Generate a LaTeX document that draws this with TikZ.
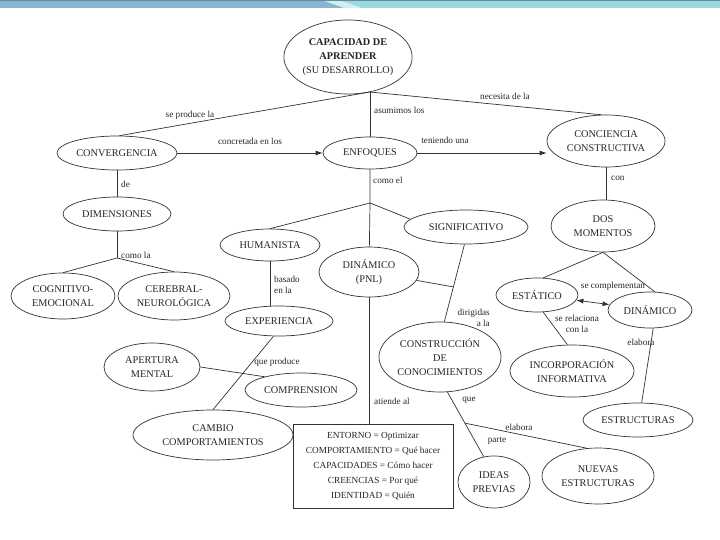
\documentclass[tikz,border=0pt]{standalone}
\usepackage{fontspec}
\setmainfont{Liberation Serif}
\usetikzlibrary{shapes.geometric,arrows.meta,calc}
\definecolor{ink}{HTML}{262626}
\definecolor{linec}{HTML}{333333}
\definecolor{barblue}{HTML}{88B6D0}
\definecolor{barcyan}{HTML}{9BD9DD}
\definecolor{bardark}{HTML}{5C8FA6}
\tikzset{
  ell/.style={ellipse, draw=linec, line width=0.7pt, inner sep=0pt, align=center, text=ink,
    font=\fontsize{10.3}{13.8}\selectfont},
  lbl/.style={inner sep=1pt, text=ink, font=\fontsize{9.2}{11.5}\selectfont, align=center},
  conn/.style={draw=linec, line width=0.7pt},
  arr/.style={conn, -{Latex[length=7pt,width=5pt]}},
  darr/.style={conn, {Latex[length=7pt,width=5pt]}-{Latex[length=7pt,width=5pt]}},
  infobox/.style={draw=linec, line width=0.8pt, rectangle, align=center, text=ink, inner sep=3pt,
    font=\fontsize{9.3}{15}\selectfont}
}
\begin{document}
\begin{tikzpicture}[x=1pt,y=-1pt]
\useasboundingbox (0,0) rectangle (720,540);
\fill[white] (0,0) rectangle (720,540);
% top bar
\fill[barblue] (0,0) rectangle (345,8);
\fill[barcyan] (345,0) rectangle (720,8);
\fill[white!55!barcyan] (322,0) -- (340,0) -- (362,8) -- (344,8) -- cycle;
\fill[bardark] (0,0) rectangle (720,1.5);

% nodes
\node[ell, minimum width=118, minimum height=74] (cap) at (348,57)
  {\textbf{CAPACIDAD DE}\\\textbf{APRENDER}\\(SU DESARROLLO)};
\node[ell, minimum width=120, minimum height=34] (conv) at (117,153) {CONVERGENCIA};
\node[ell, minimum width=94, minimum height=32] (enf) at (370,153) {ENFOQUES};
\node[ell, minimum width=118, minimum height=52] (conc) at (606,141) {CONCIENCIA\\CONSTRUCTIVA};
\node[ell, minimum width=108, minimum height=34] (dim) at (117,214) {DIMENSIONES};
\node[ell, minimum width=104, minimum height=46] (cog) at (63,296) {COGNITIVO-\\EMOCIONAL};
\node[ell, minimum width=112, minimum height=48] (cer) at (174,296) {CEREBRAL-\\NEUROLÓGICA};
\node[ell, minimum width=100, minimum height=32] (hum) at (270,245) {HUMANISTA};
\node[ell, minimum width=100, minimum height=50] (pnl) at (369,272) {DINÁMICO\\(PNL)};
\node[ell, minimum width=124, minimum height=34] (sig) at (466,227) {SIGNIFICATIVO};
\node[ell, minimum width=104, minimum height=52] (dos) at (603,226) {DOS\\MOMENTOS};
\node[ell, minimum width=82, minimum height=34] (est) at (537,295) {ESTÁTICO};
\node[ell, minimum width=84, minimum height=36] (din) at (650,310) {DINÁMICO};
\node[ell, minimum width=108, minimum height=30] (exp) at (279,321) {EXPERIENCIA};
\node[ell, minimum width=122, minimum height=70] (cons) at (440,357) {CONSTRUCCIÓN\\DE\\CONOCIMIENTOS};
\node[ell, minimum width=124, minimum height=52] (inc) at (572,371) {INCORPORACIÓN\\INFORMATIVA};
\node[ell, minimum width=96, minimum height=48] (ape) at (152,367) {APERTURA\\MENTAL};
\node[ell, minimum width=112, minimum height=34] (comp) at (301,390) {COMPRENSION};
\node[ell, minimum width=110, minimum height=34] (estr) at (638,420) {ESTRUCTURAS};
\node[ell, minimum width=160, minimum height=50] (cam) at (213,435) {CAMBIO\\COMPORTAMIENTOS};
\node[ell, minimum width=72, minimum height=52] (ideas) at (494,482) {IDEAS\\PREVIAS};
\node[ell, minimum width=112, minimum height=56] (nue) at (598,476) {NUEVAS\\ESTRUCTURAS};
\node[infobox, minimum width=160, minimum height=84] (box) at (373,466)
  {ENTORNO = Optimizar\\COMPORTAMIENTO = Qué hacer\\CAPACIDADES = Cómo hacer\\CREENCIAS = Por qué\\IDENTIDAD = Quién};

% junctions
\coordinate (j0) at (370,92);
\coordinate (j1) at (117,258);
\coordinate (j2) at (370,203);
\coordinate (j3) at ($(sig.265)!0.55!(cons.83)$);
\coordinate (j4) at ($(cons.-78)!0.48!(ideas.112)$);

% connectors
\draw[conn] (j0) -- (conv.82);
\draw[conn] (j0) -- (conc.100);
\draw[conn] (j0) -- (enf);
\draw[arr] (conv) -- (enf);
\draw[arr] (enf) -- (enf -| conc.west);
\draw[conn] (conc.south) -- (conc.south |- dos.north);
\draw[conn] (conv) -- (dim);
\draw[conn] (dim) -- (j1);
\draw[conn] (cog.north) -- (j1) -- (cer.north);
\draw[conn] (enf) -- (j2) -- (pnl);
\draw[conn] (hum.north) -- (j2) -- (sig.172);
\draw[conn] (hum.south) -- (hum.south |- exp.north);
\draw[conn] (sig.265) -- (cons.83);
\draw[conn] (pnl) -- (j3);
\draw[conn] (pnl) -- (pnl |- box.north);
\draw[conn] (est.70) -- (dos.south) -- (din.75);
\draw[darr] (est) -- (din);
\draw[conn] (est.290) -- (inc.100);
\draw[conn] (din.-80) -- (estr.78);
\draw[conn] (exp.250) -- (cam.north);
\draw[conn] (ape.east) -- (comp.160);
\draw[conn] (cons.-78) -- (ideas.112);
\draw[conn] (j4) -- (nue.112);

% labels
\node[lbl] (l1) at (190,115) {se produce la};
\node[lbl, anchor=west] (l2) at (373,110) {asumimos los};
\node[lbl] (l3) at (505,96) {necesita de la};
\node[lbl] (l4) at (250,141) {concretada en los};
\node[lbl] (l5) at (445,140) {teniendo una};
\node[lbl, anchor=west] (l6) at (120,184) {de};
\node[lbl, anchor=west] (l7) at (610,178) {con};
\node[lbl, anchor=west] (l8) at (120,255) {como la};
\node[lbl, anchor=west] (l9) at (372,180) {como el};
\node[lbl, anchor=west, align=left] (l10) at (273,285) {basado\\en la};
\node[lbl, anchor=east, align=right] (l11) at (491,318) {dirigidas\\a la};
\node[lbl] (l12) at (613,286) {se complementan};
\node[lbl] (l13) at (577,324) {se relaciona\\con la};
\node[lbl] (l14) at (641,342) {elabora};
\node[lbl, anchor=west] (l15) at (373,401) {atiende al};
\node[lbl] (l16) at (277,362) {que produce};
\node[lbl] (l17) at (469,400) {que};
\node[lbl] (l18) at (497,441) {parte};
\node[lbl] (l19) at (519,427) {elabora};
\end{tikzpicture}
\end{document}
